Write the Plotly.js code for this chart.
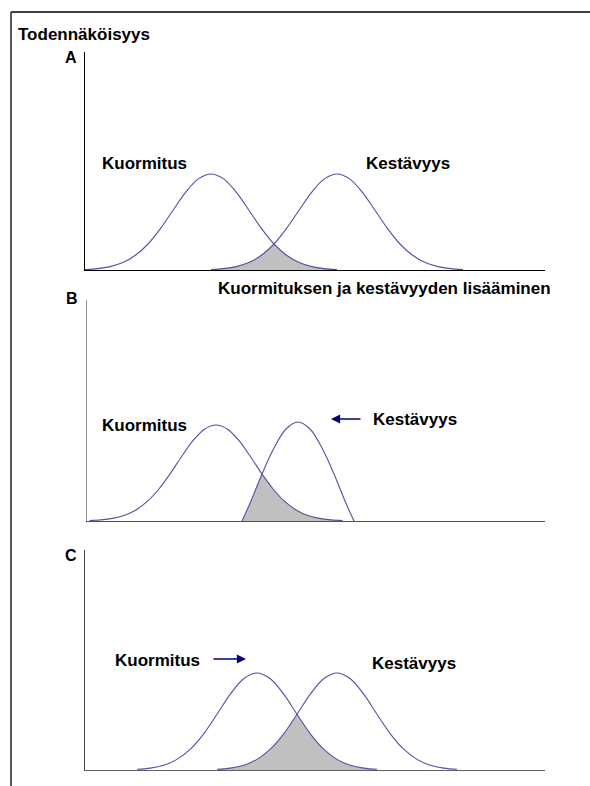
<!DOCTYPE html>
<html>
<head>
<meta charset="utf-8">
<script src="https://cdn.plot.ly/plotly-3.0.1.min.js"></script>
<style>
  html, body { margin: 0; padding: 0; background: #ffffff; }
  #chart { width: 590px; height: 786px; }
</style>
</head>
<body>
<div id="chart"></div>
<script>
// Kuormitus (load) and kestävyys (strength) distributions for three cases.
// x: position along the load/strength scale, y: relative probability.

// A: lähtötilanne
const kuormitusA_x = [0, 12.6, 25.2, 37.8, 50.4, 63, 75.6, 88.2, 100.8, 113.4, 126, 138.6, 151.2, 163.8, 176.4, 189, 201.6, 214.2, 226.8, 239.4, 252];
const kuormitusA_y = [0.5, 1.4, 3.4, 7.4, 14.7, 26.0, 41.6, 60.0, 77.9, 91.1, 96.0, 91.1, 77.9, 60.0, 41.6, 26.0, 14.7, 7.4, 3.4, 1.4, 0.5];
const kestavyysA_x = [126, 138.6, 151.2, 163.8, 176.4, 189, 201.6, 214.2, 226.8, 239.4, 252, 264.6, 277.2, 289.8, 302.4, 315, 327.6, 340.2, 352.8, 365.4, 378];
const kestavyysA_y = [0.5, 1.4, 3.4, 7.4, 14.7, 26.0, 41.6, 60.0, 77.9, 91.1, 96.0, 91.1, 77.9, 60.0, 41.6, 26.0, 14.7, 7.4, 3.4, 1.4, 0.5];

// B: kuormituksen ja kestävyyden lisääminen
const kuormitusB_x = [2.5, 14, 25.5, 37, 48.5, 60, 71.5, 83, 94.5, 106, 117.5, 129, 140.5, 152, 163.5, 175, 186.5, 198, 209.5, 221, 232.5, 244, 255.5];
const kuormitusB_y = [0.4, 1.1, 2.6, 5.5, 10.8, 19.3, 31.5, 47.0, 64.3, 80.3, 91.8, 96.0, 91.8, 80.3, 64.3, 47.0, 31.5, 19.3, 10.8, 5.5, 2.6, 1.1, 0.4];
const kestavyysB_x = [155, 163, 175, 187, 199, 211, 223, 235, 247, 259, 267];
const kestavyysB_y = [0, 17.7, 47.0, 72.9, 92.0, 99.0, 92.0, 72.9, 47.0, 17.7, 0];

// C: kuormitus siirtyy kohti kestävyyttä
const kuormitusC_x = [52, 65.33, 78.67, 92, 105.33, 118.67, 132, 145.33, 158.67, 172, 185.33, 198.67, 212, 225.33, 238.67, 252, 265.33, 278.67, 292];
const kuormitusC_y = [0.7, 1.9, 4.8, 10.6, 20.8, 36.2, 55.7, 75.8, 91.2, 97.0, 91.2, 75.8, 55.7, 36.2, 20.8, 10.6, 4.8, 1.9, 0.7];
const kestavyysC_x = [132, 145.33, 158.67, 172, 185.33, 198.67, 212, 225.33, 238.67, 252, 265.33, 278.67, 292, 305.33, 318.67, 332, 345.33, 358.67, 372];
const kestavyysC_y = [0.7, 1.9, 4.8, 10.6, 20.8, 36.2, 55.7, 75.8, 91.2, 97.0, 91.2, 75.8, 55.7, 36.2, 20.8, 10.6, 4.8, 1.9, 0.7];

// where the two curves cross in each panel (start of the failure region)
const leikkausX = [189, 175, 212];

const paneelit = ['A', 'B', 'C'];
const otsikko = 'Todennäköisyys';
const alaotsikkoB = 'Kuormituksen ja kestävyyden lisääminen';
const nimiKuormitus = 'Kuormitus';
const nimiKestavyys = 'Kestävyys';

const curveColor = '#5252a2';
const fillColor = '#c0c0c0';
const FONT = 'Liberation Sans, Arial, Helvetica, sans-serif';

function panelTraces(n, kx, ky, sx, sy, cx) {
  const xa = n === 1 ? 'x' : 'x' + n;
  const ya = n === 1 ? 'y' : 'y' + n;
  // overlap = rising side of strength up to the crossing, then falling side of load
  const ax = [], ay = [], bx = [], by = [];
  sx.forEach((x, i) => { if (x <= cx) { ax.push(x); ay.push(sy[i]); } });
  kx.forEach((x, i) => { if (x >= cx) { bx.push(x); by.push(ky[i]); } });
  const fillBase = {
    xaxis: xa, yaxis: ya, mode: 'lines', fill: 'tozeroy', fillcolor: fillColor,
    line: { width: 0, shape: 'spline', color: fillColor }, hoverinfo: 'skip'
  };
  const lineBase = {
    xaxis: xa, yaxis: ya, mode: 'lines',
    line: { width: 1.1, shape: 'spline', color: curveColor }, hoverinfo: 'skip'
  };
  return [
    Object.assign({ x: ax, y: ay }, fillBase),
    Object.assign({ x: bx, y: by }, fillBase),
    Object.assign({ x: kx, y: ky, name: nimiKuormitus }, lineBase),
    Object.assign({ x: sx, y: sy, name: nimiKestavyys }, lineBase)
  ];
}

const data = [].concat(
  panelTraces(1, kuormitusA_x, kuormitusA_y, kestavyysA_x, kestavyysA_y, leikkausX[0]),
  panelTraces(2, kuormitusB_x, kuormitusB_y, kestavyysB_x, kestavyysB_y, leikkausX[1]),
  panelTraces(3, kuormitusC_x, kuormitusC_y, kestavyysC_x, kestavyysC_y, leikkausX[2])
);

const W = 590, H = 786;
const px = v => v / W;
const py = v => 1 - v / H;

function axisX(d0, d1, range, color, anchor) {
  return {
    domain: [px(d0), px(d1)], range: range, anchor: anchor,
    showline: true, linecolor: color, linewidth: 1,
    showgrid: false, zeroline: false, showticklabels: false, ticks: '', fixedrange: true
  };
}
function axisY(top, bottom, range, color, anchor) {
  return {
    domain: [py(bottom), py(top)], range: range, anchor: anchor,
    showline: true, linecolor: color, linewidth: 1,
    showgrid: false, zeroline: false, showticklabels: false, ticks: '', fixedrange: true
  };
}

function label(text, x, y, size) {
  return {
    xref: 'paper', yref: 'paper', x: px(x), y: py(y),
    xanchor: 'left', yanchor: 'middle', showarrow: false,
    text: '<b>' + text + '</b>',
    font: { family: FONT, size: size || 17, color: '#000000' }
  };
}
function arrow(xHead, y, dx) {
  return {
    xref: 'paper', yref: 'paper', x: px(xHead), y: py(y),
    ax: dx, ay: 0, text: '', showarrow: true,
    arrowhead: 2, arrowsize: 1.4, arrowwidth: 1.3, arrowcolor: '#000080'
  };
}

const layout = {
  width: W, height: H,
  margin: { l: 0, r: 0, t: 0, b: 0 },
  paper_bgcolor: '#ffffff', plot_bgcolor: 'rgba(0,0,0,0)',
  showlegend: false,
  xaxis: axisX(85, 545, [0, 460], '#000000', 'y'),
  yaxis: axisY(52, 270, [0, 218], '#000000', 'x'),
  xaxis2: axisX(87, 545, [0, 458], '#505050', 'y2'),
  yaxis2: axisY(300, 521, [0, 221], '#909090', 'x2'),
  xaxis3: axisX(85, 545, [0, 460], '#606060', 'y3'),
  yaxis3: axisY(550, 770, [0, 220], '#404040', 'x3'),
  shapes: [
    { type: 'line', xref: 'paper', yref: 'paper', x0: px(11), x1: 1, y0: py(12), y1: py(12),
      line: { color: '#000000', width: 1.5 } },
    { type: 'line', xref: 'paper', yref: 'paper', x0: px(11), x1: px(11), y0: py(12), y1: 0,
      line: { color: '#222222', width: 1.5 } }
  ],
  annotations: [
    label(otsikko, 16, 35),
    label(paneelit[0], 63, 58, 16),
    label(nimiKuormitus, 100, 164),
    label(nimiKestavyys, 364, 163),
    label(alaotsikkoB, 216, 289),
    label(paneelit[1], 64, 298, 16),
    label(nimiKuormitus, 100, 425),
    label(nimiKestavyys, 371, 419),
    arrow(331, 419, 31),
    label(paneelit[2], 63, 555, 16),
    label(nimiKuormitus, 113, 660),
    arrow(246, 659, -34),
    label(nimiKestavyys, 370, 663)
  ]
};

Plotly.newPlot('chart', data, layout, { staticPlot: true, displayModeBar: false });
</script>
</body>
</html>
